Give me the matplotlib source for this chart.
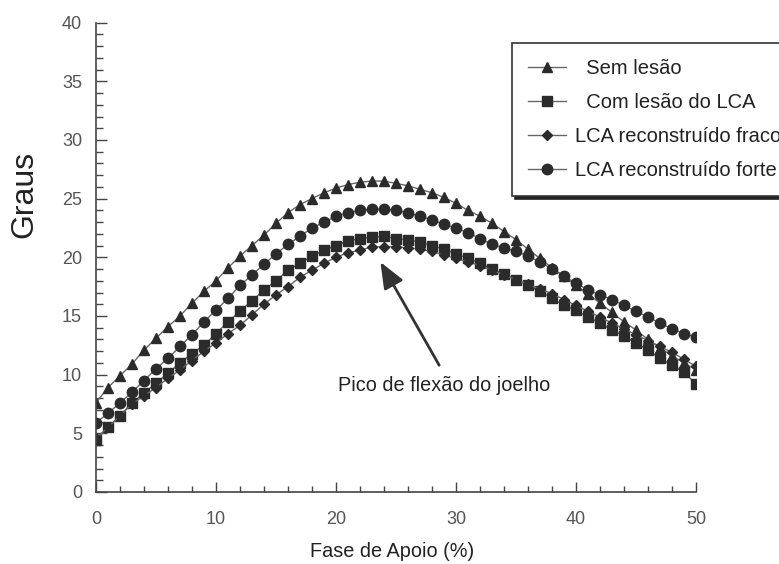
import matplotlib
matplotlib.use("Agg")
import matplotlib.pyplot as plt
import numpy as np

plt.rcParams['font.family'] = ['Liberation Sans', 'DejaVu Sans']

# Fase de apoio (%)
fase = list(range(0, 51))

sem_lesao = [7.6, 8.9, 9.9, 10.9, 12.1, 13.1, 14.1, 15.0, 16.1, 17.1,
             18.0, 19.1, 20.1, 21.0, 21.9, 22.9, 23.8, 24.5, 25.0, 25.5,
             25.9, 26.2, 26.4, 26.5, 26.5, 26.3, 26.1, 25.8, 25.5, 25.1,
             24.6, 24.0, 23.5, 22.9, 22.2, 21.5, 20.7, 19.9, 19.1, 18.4,
             17.6, 16.9, 16.1, 15.3, 14.5, 13.8, 13.0, 12.3, 11.6, 11.0,
             10.4]

com_lesao = [4.4, 5.5, 6.5, 7.6, 8.4, 9.3, 10.1, 11.0, 11.8, 12.5,
             13.5, 14.5, 15.4, 16.3, 17.2, 18.0, 18.9, 19.5, 20.1, 20.6,
             21.0, 21.4, 21.6, 21.7, 21.8, 21.6, 21.5, 21.3, 21.0, 20.7,
             20.3, 19.9, 19.5, 19.0, 18.6, 18.1, 17.6, 17.1, 16.5, 15.9,
             15.5, 14.9, 14.4, 13.8, 13.3, 12.7, 12.1, 11.4, 10.8, 10.2,
             9.2]

rec_fraco = [4.6, 5.5, 6.5, 7.5, 8.2, 8.9, 9.7, 10.4, 11.2, 12.0,
             12.7, 13.5, 14.2, 15.1, 16.0, 16.8, 17.5, 18.3, 18.9, 19.5,
             20.0, 20.4, 20.6, 20.9, 20.9, 20.9, 20.8, 20.7, 20.5, 20.2,
             19.9, 19.6, 19.3, 18.9, 18.5, 18.1, 17.7, 17.3, 16.9, 16.4,
             15.9, 15.4, 14.9, 14.4, 13.9, 13.4, 12.9, 12.4, 11.9, 11.3,
             10.7]

rec_forte = [5.9, 6.7, 7.6, 8.5, 9.5, 10.5, 11.4, 12.4, 13.4, 14.5,
             15.5, 16.5, 17.6, 18.5, 19.4, 20.3, 21.1, 21.8, 22.5, 23.0,
             23.5, 23.8, 24.0, 24.1, 24.1, 24.0, 23.8, 23.5, 23.2, 22.8,
             22.5, 22.1, 21.6, 21.1, 20.8, 20.5, 20.1, 19.6, 19.0, 18.4,
             17.8, 17.2, 16.8, 16.4, 15.9, 15.4, 14.9, 14.4, 13.9, 13.5,
             13.2]

labels = ['  Sem lesão', '  Com lesão do LCA', 'LCA reconstruído fraco',
          'LCA reconstruído forte']

fig = plt.figure(figsize=(7.79, 5.64), dpi=100)
ax = fig.add_axes([0.1232, 0.1277, 0.7703, 0.8321])

mk = '#2b2b2b'
ln = '#666666'
ax.plot(fase, sem_lesao, marker='^', ms=7.5, color=ln, lw=1, mfc=mk, mec=mk, label=labels[0])
ax.plot(fase, com_lesao, marker='s', ms=7, color=ln, lw=1, mfc=mk, mec=mk, label=labels[1])
ax.plot(fase, rec_fraco, marker='D', ms=5.2, color=ln, lw=1, mfc=mk, mec=mk, label=labels[2])
ax.plot(fase, rec_forte, marker='o', ms=7.5, color=ln, lw=1, mfc=mk, mec=mk, label=labels[3])

ax.set_xlim(0, 50)
ax.set_ylim(0, 40)
ax.set_xticks(range(0, 51, 10))
ax.set_xticks(range(0, 51, 2), minor=True)
ax.set_yticks(range(0, 41, 5))
ax.set_yticks(range(0, 41, 1), minor=True)

for s in ['top', 'right']:
    ax.spines[s].set_visible(False)
for s in ['left', 'bottom']:
    ax.spines[s].set_color('#444444')
    ax.spines[s].set_linewidth(1.2)

ax.tick_params(axis='x', which='major', direction='in', length=7, width=1,
               color='#444444', labelsize=13, labelcolor='#555555', pad=14)
ax.tick_params(axis='x', which='minor', direction='in', length=4, width=1, color='#444444')
ax.tick_params(axis='y', which='major', direction='in', length=8, width=1,
               color='#444444', labelsize=13, labelcolor='#555555', pad=10)
ax.tick_params(axis='y', which='minor', direction='in', length=5, width=1, color='#444444')

ax.set_xlabel('Fase de Apoio (%)', fontsize=14.3, color='#222222')
ax.xaxis.set_label_coords(0.493, -0.106)
ax.set_ylabel('Graus', fontsize=23, color='#222222')
ax.yaxis.set_label_coords(-0.095, 0.635)

ax.annotate('', xy=(23.7, 19.6), xytext=(28.6, 10.8),
            arrowprops=dict(arrowstyle='-|>,head_length=1.6,head_width=0.65',
                            color='#333333', lw=2, shrinkA=0, shrinkB=0))
ax.text(29.0, 9.1, 'Pico de flexão do joelho', fontsize=14.3, color='#222222',
        ha='center', va='center')

# legend box runs past the right edge, as in the source figure
leg = ax.legend(loc='upper left', bbox_to_anchor=(0.657, 0.924),
                bbox_transform=fig.transFigure, fontsize=14.5, frameon=True,
                fancybox=False, shadow={'color': '#222222', 'alpha': 1},
                handlelength=1.9, handletextpad=0.45, labelspacing=0.75,
                borderpad=0.8, borderaxespad=0)
leg.get_frame().set_edgecolor('#333333')
leg.get_frame().set_linewidth(1.2)
for t in leg.get_texts():
    t.set_color('#222222')

fig.savefig('out.png', dpi=100)
